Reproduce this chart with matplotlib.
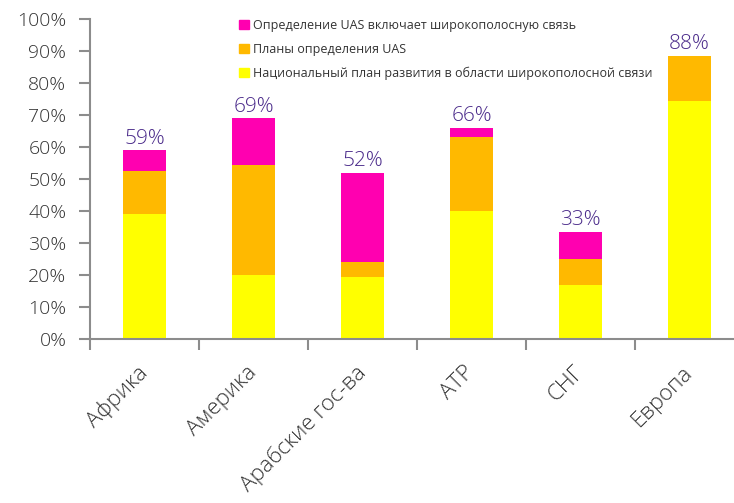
import matplotlib
matplotlib.use("Agg")
from matplotlib import pyplot as plt
from matplotlib.patches import Patch

plt.rcParams['font.family'] = ['Open Sans', 'DejaVu Sans']

# Data (percent)
regions = ['Африка', 'Америка', 'Арабские гос-ва', 'АТР', 'СНГ', 'Европа']
national_plan = [39, 20, 19.5, 40, 17, 74.5]
uas_plans = [13.5, 34.5, 4.5, 23, 8, 14]
uas_includes = [6.5, 14.5, 28, 3, 8.5, 0]
totals = ['59%', '69%', '52%', '66%', '33%', '88%']

series_names = ['Определение UAS включает широкополосную связь',
                'Планы определения UAS',
                'Национальный план развития в области широкополосной связи']
colors = ['#FF00B0', '#FFB900', '#FFFF00']

fig = plt.figure(figsize=(7.34, 5.03), dpi=100)
ax = fig.add_axes([90 / 734, 164 / 503, 654 / 734, 320 / 503])

x = list(range(len(regions)))
w = 0.4
b2 = [a + b for a, b in zip(national_plan, uas_plans)]
top = [a + b for a, b in zip(b2, uas_includes)]
ax.bar(x, national_plan, w, color=colors[2])
ax.bar(x, uas_plans, w, bottom=national_plan, color=colors[1])
ax.bar(x, uas_includes, w, bottom=b2, color=colors[0])

for xi, t, lab in zip(x, top, totals):
    ax.text(xi, t + 0.5, lab, ha='center', va='bottom', fontsize=15,
            color='#4A2A8A', fontweight='light')

ax.set_xlim(-0.5, 5.5)
ax.set_ylim(0, 100)
ax.set_yticks(range(0, 101, 10))
ax.set_yticklabels([f'{v}%' for v in range(0, 101, 10)], fontsize=14,
                   color='#333333', fontweight='light')

ax.set_xticks([i + 0.5 for i in range(-1, 5)])
ax.set_xticklabels([])
ax.set_xticks(x, minor=True)
ax.set_xticklabels(regions, minor=True, rotation=45, ha='right', va='center',
                   rotation_mode='anchor', fontsize=16, color='#333333',
                   fontweight='light')
ax.tick_params(axis='x', which='minor', length=0, pad=22)
ax.tick_params(axis='both', which='major', length=8, width=1.5, color='#8C8C8C')
ax.tick_params(axis='y', pad=9)

for s in ['top', 'right']:
    ax.spines[s].set_visible(False)
for s in ['left', 'bottom']:
    ax.spines[s].set_color('#8C8C8C')
    ax.spines[s].set_linewidth(1.5)

handles = [Patch(color=c) for c in colors]
leg = ax.legend(handles, series_names, loc='upper left',
                bbox_to_anchor=(138 / 654, 1.035), frameon=False, fontsize=9,
                handlelength=0.8, handleheight=0.8, handletextpad=0.3,
                labelspacing=0.85)
for t in leg.get_texts():
    t.set_color('#333333')

fig.savefig('out.png', dpi=100)
